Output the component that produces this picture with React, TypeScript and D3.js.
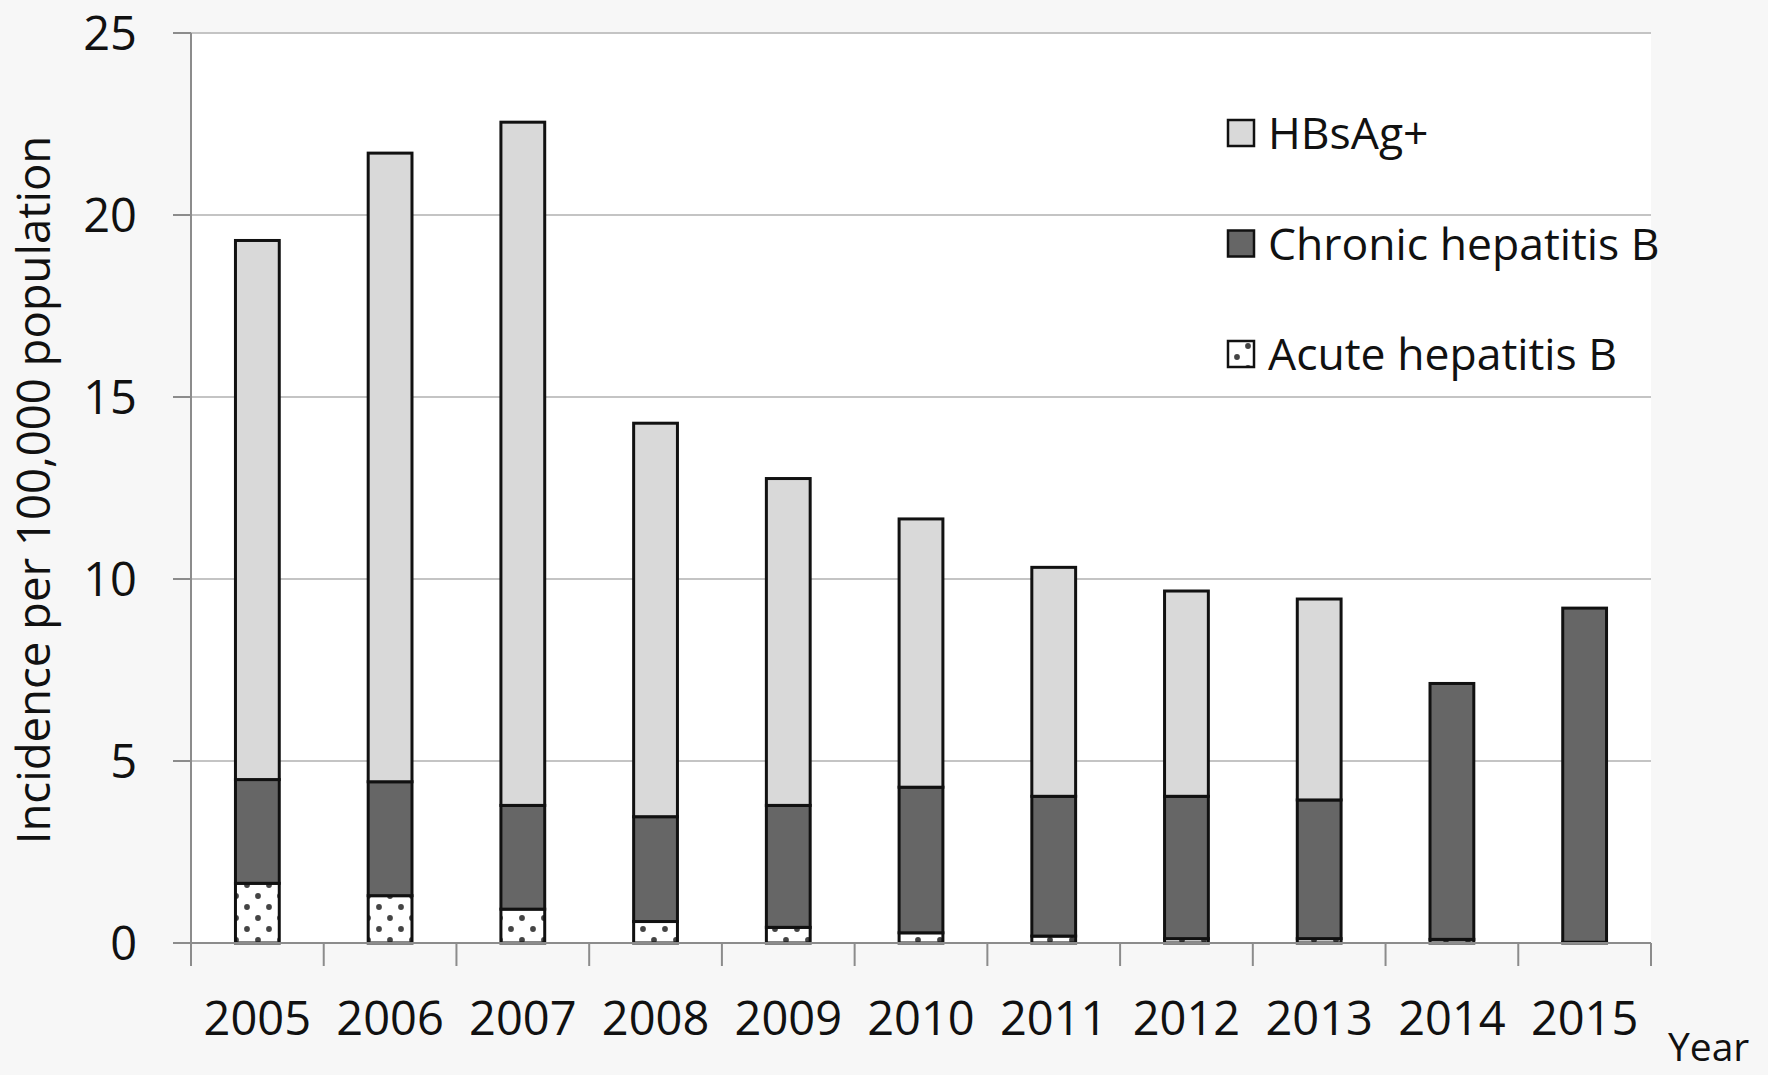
import React from 'react';
import * as d3 from 'd3';

const years = ['2005', '2006', '2007', '2008', '2009', '2010', '2011', '2012', '2013', '2014', '2015'];
const acute = [1.64, 1.3, 0.93, 0.59, 0.43, 0.28, 0.19, 0.12, 0.12, 0.1, 0.02];
const chronic = [2.85, 3.13, 2.85, 2.88, 3.35, 4.0, 3.84, 3.91, 3.81, 7.03, 9.18];
const hbsag = [14.81, 17.27, 18.77, 10.81, 8.98, 7.37, 6.29, 5.64, 5.52, 0, 0];
const yTicks = [0, 5, 10, 15, 20, 25];
const seriesNames = ['Acute hepatitis B', 'Chronic hepatitis B', 'HBsAg+'];

const FONT = '"Open Sans", sans-serif';

export default function App() {
  const W = 1768;
  const H = 1075;
  const left = 191, right = 1651, top = 33, bottom = 943;

  const rows = years.map((y, i) => ({ year: y, acute: acute[i], chronic: chronic[i], hbsag: hbsag[i] }));
  const stack = d3.stack<any>().keys(['acute', 'chronic', 'hbsag'])(rows);

  const x = d3.scaleBand().domain(years).range([left, right]).paddingInner(0.67).paddingOuter(0.335);
  const y = d3.scaleLinear().domain([0, 25]).range([bottom, top]);

  const fills: Record<string, string> = {
    acute: 'url(#dots)',
    chronic: '#666666',
    hbsag: '#d9d9d9',
  };

  const step = x.step();
  const boundaries = d3.range(years.length + 1).map(i => left + i * step);

  const legend = [
    { key: 'hbsag', label: seriesNames[2] },
    { key: 'chronic', label: seriesNames[1] },
    { key: 'acute', label: seriesNames[0] },
  ];

  return (
    <div style={{ position: 'fixed', left: 0, top: 0 }}>
      <svg width={W} height={H} style={{ display: 'block' }}>
        <defs>
          <pattern id="dots" width={22} height={22} patternUnits="userSpaceOnUse">
            <rect width={22} height={22} fill="#ffffff" />
            <circle cx={5} cy={5} r={2.9} fill="#444" />
            <circle cx={16} cy={16} r={2.9} fill="#444" />
          </pattern>
        </defs>
        <rect width={W} height={H} fill="#f7f7f7" />
        <rect x={left} y={top} width={right - left} height={bottom - top} fill="#ffffff" />

        {/* gridlines + y ticks */}
        {yTicks.map(t => (
          <g key={t}>
            {t > 0 && (
              <line x1={left} x2={right} y1={y(t)} y2={y(t)} stroke="#c4c4c4" strokeWidth={2} />
            )}
            <line x1={173} x2={left} y1={y(t)} y2={y(t)} stroke="#8c8c8c" strokeWidth={2} />
            <text x={137} y={y(t)} dy="0.36em" textAnchor="end" fontFamily={FONT} fontSize={47} fill="#111">
              {t}
            </text>
          </g>
        ))}

        {/* bars */}
        {stack.map(s => (
          <g key={s.key}>
            {s.map((d, i) => {
              const h = y(d[0]) - y(d[1]);
              if (h <= 0.5) return null;
              return (
                <rect
                  key={i}
                  x={x(years[i])}
                  y={y(d[1])}
                  width={x.bandwidth()}
                  height={h}
                  fill={fills[s.key]}
                  stroke="#111"
                  strokeWidth={3}
                />
              );
            })}
          </g>
        ))}

        {/* axes */}
        <line x1={left} x2={left} y1={top} y2={bottom} stroke="#8c8c8c" strokeWidth={2} />
        <line x1={left} x2={right} y1={bottom} y2={bottom} stroke="#8c8c8c" strokeWidth={2} />
        {boundaries.map((bx, i) => (
          <line key={i} x1={bx} x2={bx} y1={bottom} y2={966} stroke="#8c8c8c" strokeWidth={2} />
        ))}
        {years.map(yr => (
          <text key={yr} x={(x(yr) ?? 0) + x.bandwidth() / 2} y={1035} textAnchor="middle" fontFamily={FONT} fontSize={47} fill="#111">
            {yr}
          </text>
        ))}
        <text x={1668} y={1061} fontFamily={FONT} fontSize={39} fill="#111">Year</text>

        {/* y label */}
        <text
          transform={`translate(50,${490}) rotate(-90)`}
          textAnchor="middle"
          fontFamily={FONT}
          fontSize={45.5}
          fill="#111"
        >
          Incidence per 100,000 population
        </text>

        {/* legend */}
        {legend.map((l, i) => {
          const cy = 133 + i * 110.5;
          return (
            <g key={l.key}>
              <rect x={1228} y={cy - 13} width={26} height={26} fill={fills[l.key]} stroke="#111" strokeWidth={2.5} />
              <text x={1268} y={cy} dy="0.36em" fontFamily={FONT} fontSize={44.5} fill="#111">
                {l.label}
              </text>
            </g>
          );
        })}
      </svg>
    </div>
  );
}
